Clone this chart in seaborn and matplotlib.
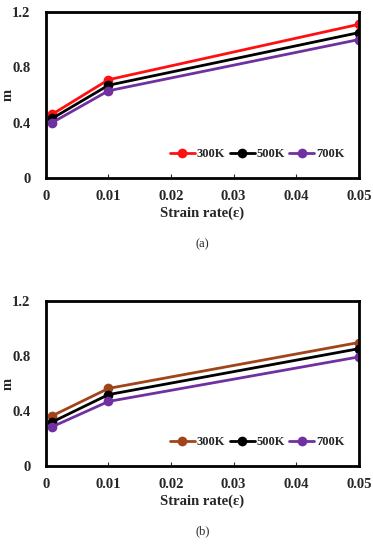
import matplotlib
matplotlib.use("Agg")
import matplotlib.pyplot as plt
import seaborn as sns
import pandas as pd

strain_rate = [0.001, 0.01, 0.05]
temps = ["300K", "500K", "700K"]
a_300 = [0.46, 0.71, 1.11]
a_500 = [0.43, 0.67, 1.05]
a_700 = [0.40, 0.63, 1.00]
b_300 = [0.365, 0.565, 0.90]
b_500 = [0.32, 0.52, 0.855]
b_700 = [0.285, 0.47, 0.795]
x_ticks = [0, 0.01, 0.02, 0.03, 0.04, 0.05]
x_tick_labels = ["0", "0.01", "0.02", "0.03", "0.04", "0.05"]
y_ticks = [0, 0.4, 0.8, 1.2]
y_tick_labels = ["0", "0.4", "0.8", "1.2"]

sns.set_theme(style="white")
plt.rcParams["font.family"] = ["Liberation Serif", "DejaVu Serif"]
plt.rcParams["font.weight"] = "bold"

def make_df(vals):
    rows = []
    for t, v in zip(temps, vals):
        for x, y in zip(strain_rate, v):
            rows.append({"x": x, "m": y, "T": t})
    return pd.DataFrame(rows)

fig = plt.figure(figsize=(3.73, 5.5), dpi=100)
ax1 = fig.add_axes([0.123, 0.6764, 0.839, 0.302])
ax2 = fig.add_axes([0.123, 0.153, 0.839, 0.299])

panels = [
    (ax1, [a_300, a_500, a_700], ["#FF1010", "#000000", "#7030A0"], "(a)"),
    (ax2, [b_300, b_500, b_700], ["#A0441A", "#000000", "#7030A0"], "(b)"),
]
for ax, vals, cols, lab in panels:
    df = make_df(vals)
    sns.lineplot(data=df, x="x", y="m", hue="T", palette=dict(zip(temps, cols)),
                 marker="o", markersize=7, markeredgewidth=0, linewidth=2.0, ax=ax)
    ax.set_xlim(0, 0.05)
    ax.set_ylim(0, 1.2)
    ax.set_xticks(x_ticks)
    ax.set_xticklabels(x_tick_labels, fontsize=10.5, fontweight="bold")
    ax.set_yticks(y_ticks)
    ax.set_yticklabels(y_tick_labels, fontsize=10.5, fontweight="bold")
    ax.tick_params(axis="x", direction="in", length=3, width=0.8, pad=9, bottom=True)
    ax.tick_params(axis="y", left=False, pad=5)
    for s in ax.spines.values():
        s.set_linewidth(2.0)
        s.set_color("black")
    ax.set_xlabel("Strain rate(ε)", fontsize=10.5, fontweight="bold", labelpad=2.5)
    ax.set_ylabel("m", fontsize=10.5, fontweight="bold")
    ax.yaxis.set_label_coords(-0.10, 0.5)
    ax.legend(loc="lower right", ncol=3, frameon=False,
              handlelength=2.0, handletextpad=0.15, columnspacing=0.35,
              bbox_to_anchor=(0.99, 0.04), prop={"weight": "bold", "size": 9})
    ax.text(0.5, -0.40, lab, transform=ax.transAxes, ha="center", va="center",
            fontsize=9, fontweight="normal")

fig.savefig("out.png", dpi=100)
